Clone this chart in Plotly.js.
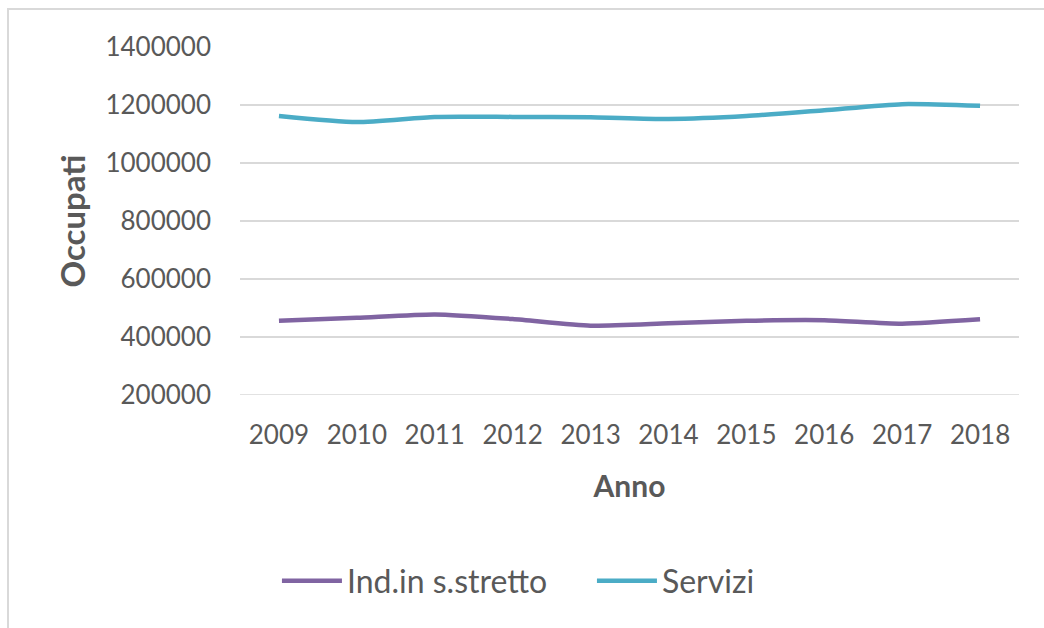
<!DOCTYPE html>
<html>
<head>
<meta charset="utf-8">
<script src="https://cdn.plot.ly/plotly-3.0.1.min.js"></script>
<style>
html,body{margin:0;padding:0;background:#fff;}
#frame{position:absolute;left:7px;top:8px;width:1100px;height:700px;border-top:2px solid #d9d9d9;border-left:2px solid #d9d9d9;}
#chart{position:absolute;left:0;top:0;width:1044px;height:628px;}
</style>
</head>
<body>
<div id="frame"></div>
<div id="chart"></div>
<script>
const years = ["2009","2010","2011","2012","2013","2014","2015","2016","2017","2018"];
const industria = [456000, 466000, 478000, 462000, 439000, 447000, 456000, 458000, 446000, 461000];
const servizi = [1162000, 1141000, 1159000, 1159000, 1158000, 1152000, 1162000, 1182000, 1203000, 1197000];
const yTicks = [200000, 400000, 600000, 800000, 1000000, 1200000, 1400000];
const seriesNames = ["Ind.in s.stretto", "Servizi"];

const FONT = "Lato, 'Open Sans', sans-serif";
const GREY = "#595959";

const traces = [
  {x: years, y: industria, name: seriesNames[0], type: "scatter", mode: "lines",
   line: {color: "#8064A2", width: 4.5, shape: "spline", smoothing: 0.6}},
  {x: years, y: servizi, name: seriesNames[1], type: "scatter", mode: "lines",
   line: {color: "#4BACC6", width: 4.5, shape: "spline", smoothing: 0.6}}
];

const layout = {
  width: 1044, height: 628,
  paper_bgcolor: "rgba(0,0,0,0)", plot_bgcolor: "rgba(0,0,0,0)",
  margin: {l: 240, r: 25, t: 47, b: 233},
  font: {family: FONT, color: GREY, size: 26},
  showlegend: true,
  legend: {orientation: "h", xref: "container", yref: "container", x: 0.567, xanchor: "center",
           y: 0.075, yanchor: "middle", font: {size: 32, color: GREY}, itemwidth: 60,
           entrywidth: 240},
  xaxis: {type: "category", range: [-0.5, 9.5], showgrid: false, zeroline: false,
          showline: false, ticks: "", ticklabelstandoff: 22,
          tickfont: {size: 26, color: GREY},
          title: {text: "<b>Anno</b>", font: {size: 30, color: GREY}, standoff: 26}},
  yaxis: {range: [200000, 1400000], tickvals: yTicks, ticktext: yTicks.map(String),
          showgrid: true, gridcolor: "#d9d9d9", gridwidth: 1.5, zeroline: false, showline: false,
          ticks: "", ticklabelstandoff: 28, tickfont: {size: 26, color: GREY},
          title: {text: "<b>Occupati</b>", font: {size: 33, color: GREY}, standoff: 9}},
  shapes: [{type: "line", xref: "paper", yref: "y", x0: 0, x1: 1, y0: 200000, y1: 200000,
            line: {color: "#d9d9d9", width: 1.5}}]
};

Plotly.newPlot("chart", traces, layout, {displayModeBar: false, staticPlot: true});
</script>
</body>
</html>
